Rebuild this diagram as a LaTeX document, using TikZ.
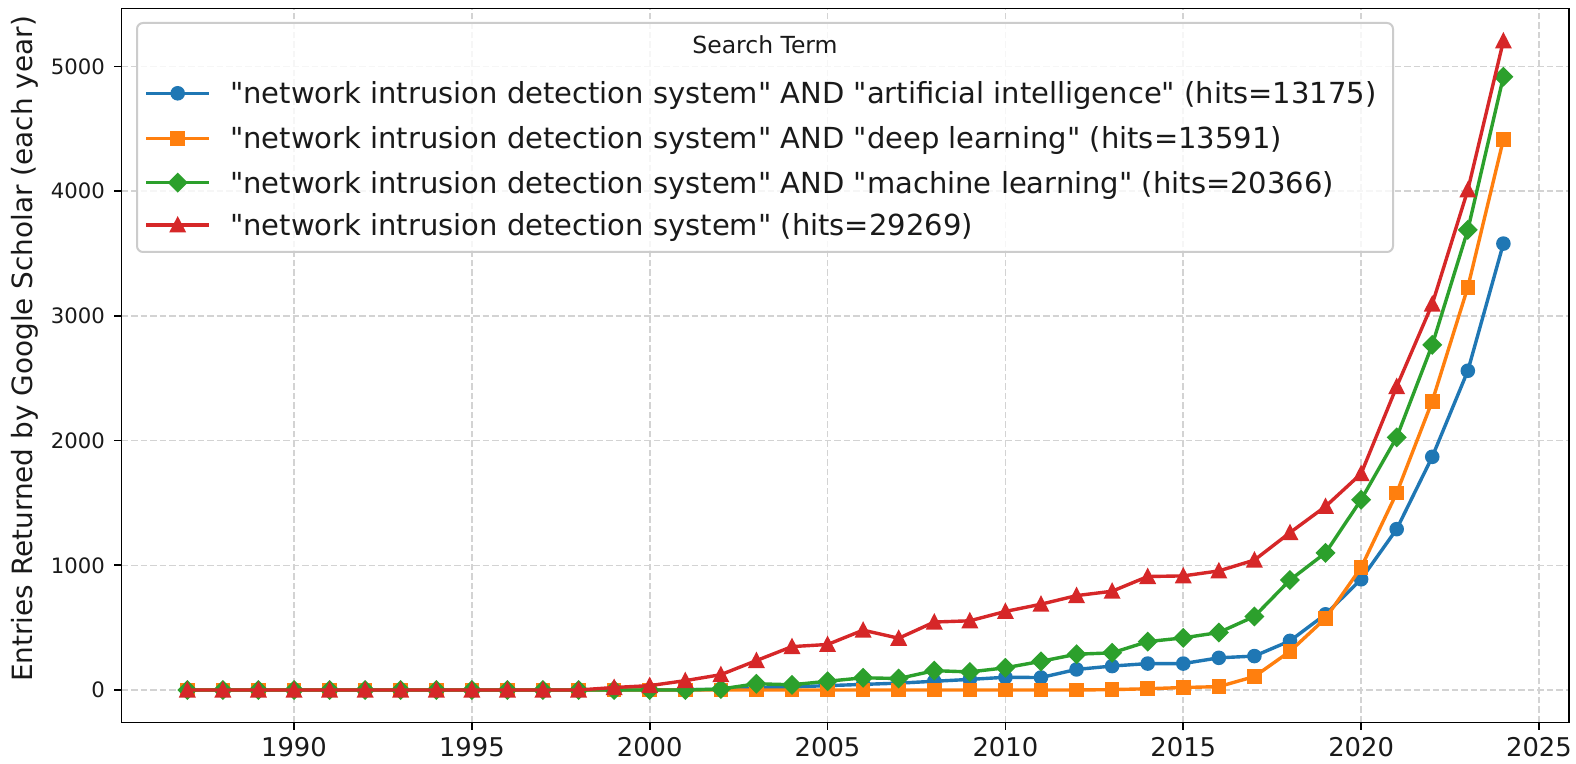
\documentclass[tikz,border=0pt]{standalone}
\usepackage{fontspec}
\setmainfont{DejaVu Sans}[Ligatures=TeXOff]
\usetikzlibrary{plotmarks}
\definecolor{tblue}{HTML}{1F77B4}
\definecolor{torange}{HTML}{FF7F0E}
\definecolor{tgreen}{HTML}{2CA02C}
\definecolor{tred}{HTML}{D62728}
\definecolor{gridc}{HTML}{D3D3D3}
\definecolor{legc}{HTML}{CCCCCC}
\definecolor{txtc}{HTML}{1A1A1A}
\pgfdeclareplotmark{mcirc}{\pgfpathcircle{\pgfpointorigin}{7.3pt}\pgfusepathqfill}
\pgfdeclareplotmark{msq}{\pgfpathrectangle{\pgfqpoint{-7.3pt}{-7.3pt}}{\pgfqpoint{14.6pt}{14.6pt}}\pgfusepathqfill}
\pgfdeclareplotmark{mdia}{\pgfpathmoveto{\pgfqpoint{0pt}{10pt}}\pgfpathlineto{\pgfqpoint{10pt}{0pt}}\pgfpathlineto{\pgfqpoint{0pt}{-10pt}}\pgfpathlineto{\pgfqpoint{-10pt}{0pt}}\pgfpathclose\pgfusepathqfill}
\pgfdeclareplotmark{mtri}{\pgfpathmoveto{\pgfqpoint{0pt}{9pt}}\pgfpathlineto{\pgfqpoint{8.5pt}{-7.5pt}}\pgfpathlineto{\pgfqpoint{-8.5pt}{-7.5pt}}\pgfpathclose\pgfusepathqfill}
\tikzset{
  gridline/.style={gridc, line width=1.6pt, dash pattern=on 6.5pt off 3pt},
  axline/.style={black, line width=1.7pt},
  series/.style={line width=3.4pt, line join=round},
  xticklab/.style={anchor=north, inner sep=0pt, text=txtc, font=\fontsize{25.8}{30}\selectfont},
  yticklab/.style={anchor=east, inner sep=0pt, text=txtc, font=\fontsize{21.2}{25}\selectfont},
  legtext/.style={anchor=base west, inner sep=0pt, text=txtc, font=\fontsize{29}{34}\selectfont},
}
\begin{document}
\begin{tikzpicture}[x=1pt,y=1pt]
\useasboundingbox (0,0) rectangle (1576,763);
\fill[white] (0,0) rectangle (1576,763);
\def\AL{121.5}\def\AR{1569.2}\def\AB{40.6}\def\AT{754.5}
% grid and ticks
\foreach \yr in {1990,1995,...,2025}{
  \pgfmathsetmacro\gx{294+(\yr-1990)*35.57}
  \draw[gridline] (\gx,\AB) -- (\gx,\AT);
  \draw[axline] (\gx,\AB) -- (\gx,\AB-7.2);
  \node[xticklab] (xt\yr) at (\gx,\AB-14.4) {\yr};
}
\foreach \v in {0,1000,...,5000}{
  \pgfmathsetmacro\gy{73+0.1247*\v}
  \draw[gridline] (\AL,\gy) -- (\AR,\gy);
  \draw[axline] (\AL,\gy) -- (\AL-7.2,\gy);
  \node[yticklab] (yt\v) at (105,\gy) {\v};
}
% data
\begin{scope}[xshift=187.29pt, yshift=73pt, x=35.57pt, y=0.1247pt]
\draw[series, tblue] plot[mark=mcirc] coordinates {(0,0) (1,0) (2,0) (3,0) (4,0) (5,0) (6,0) (7,0) (8,0) (9,0) (10,0) (11,0) (12,0) (13,0) (14,2) (15,5) (16,15) (17,25) (18,35) (19,45) (20,55) (21,70) (22,85) (23,102) (24,100) (25,165) (26,192) (27,212) (28,212) (29,258) (30,272) (31,394) (32,607) (33,888) (34,1290) (35,1870) (36,2560) (37,3580)};
\draw[series, torange] plot[mark=msq] coordinates {(0,0) (1,0) (2,0) (3,0) (4,0) (5,0) (6,0) (7,0) (8,0) (9,0) (10,0) (11,0) (12,0) (13,0) (14,0) (15,0) (16,0) (17,0) (18,0) (19,0) (20,0) (21,0) (22,0) (23,0) (24,0) (25,0) (26,3) (27,10) (28,20) (29,27) (30,108) (31,310) (32,575) (33,982) (34,1580) (35,2316) (36,3230) (37,4415)};
\draw[series, tgreen] plot[mark=mdia] coordinates {(0,0) (1,0) (2,0) (3,0) (4,0) (5,0) (6,0) (7,0) (8,0) (9,0) (10,0) (11,0) (12,0) (13,0) (14,0) (15,8) (16,50) (17,42) (18,70) (19,98) (20,92) (21,155) (22,145) (23,178) (24,230) (25,287) (26,298) (27,388) (28,418) (29,461) (30,590) (31,882) (32,1100) (33,1526) (34,2026) (35,2768) (36,3690) (37,4918)};
\draw[series, tred] plot[mark=mtri] coordinates {(0,0) (1,0) (2,0) (3,0) (4,0) (5,0) (6,0) (7,0) (8,0) (9,0) (10,0) (11,0) (12,20) (13,35) (14,75) (15,123) (16,236) (17,348) (18,365) (19,480) (20,415) (21,545) (22,555) (23,630) (24,688) (25,757) (26,792) (27,910) (28,915) (29,955) (30,1042) (31,1262) (32,1472) (33,1735) (34,2433) (35,3095) (36,4010) (37,5205)};
\end{scope}
% axes frame
\draw[axline] (\AL,\AB) rectangle (\AR,\AT);
% y label
\node[rotate=90, text=txtc, font=\fontsize{27.9}{33}\selectfont] (ylab) at (25,414) {Entries Returned by Google Scholar (each year)};
% legend
\draw[legc, fill=white, fill opacity=0.8, line width=2pt, rounded corners=6pt] (137,740) rectangle (1393,511);
\node[anchor=base, inner sep=0pt, text=txtc, font=\fontsize{23.5}{28}\selectfont] (legtitle) at (765,709) {Search Term};
\draw[series, tblue] plot[mark=mcirc, mark indices={2}] coordinates {(146,669.7) (177.7,669.7) (209,669.7)};
\draw[series, torange] plot[mark=msq, mark indices={2}] coordinates {(146,624.7) (177.7,624.7) (209,624.7)};
\draw[series, tgreen] plot[mark=mdia, mark indices={2}] coordinates {(146,580.3) (177.7,580.3) (209,580.3)};
\draw[series, tred] plot[mark=mtri, mark indices={2}] coordinates {(146,538) (177.7,538) (209,538)};
\node[legtext] (l1) at (230,659.2) {"network intrusion detection system" AND "artificial intelligence" (hits=13175)};
\node[legtext] (l2) at (230,614.2) {"network intrusion detection system" AND "deep learning" (hits=13591)};
\node[legtext] (l3) at (230,569.8) {"network intrusion detection system" AND "machine learning" (hits=20366)};
\node[legtext] (l4) at (230,527.5) {"network intrusion detection system" (hits=29269)};
\end{tikzpicture}
\end{document}
